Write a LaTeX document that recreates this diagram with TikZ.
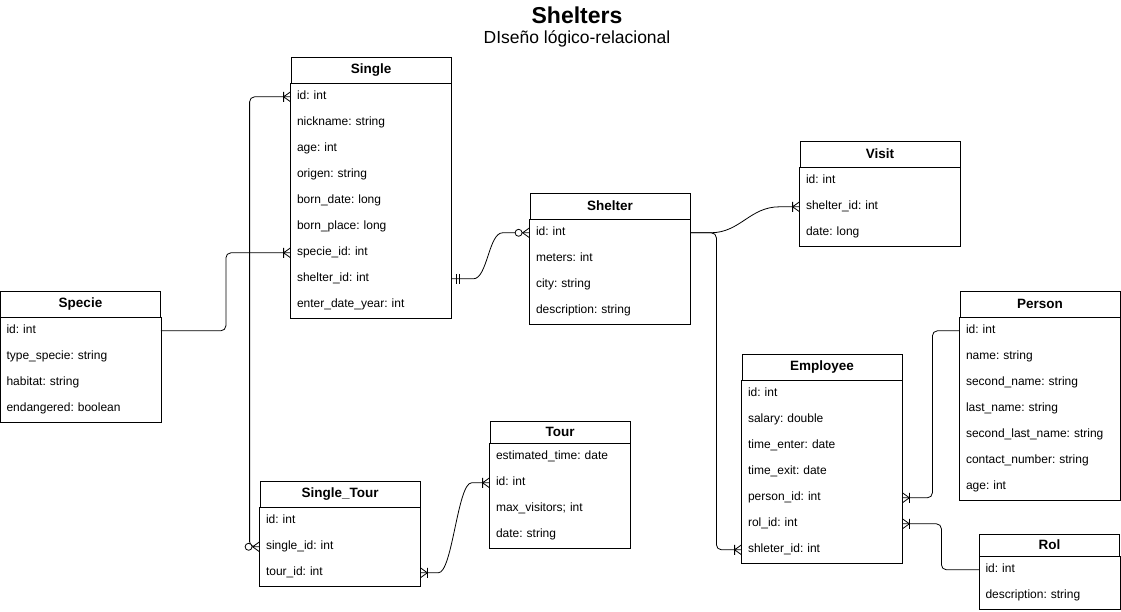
\documentclass[tikz,border=0pt]{standalone}
\usepackage{fontspec}
\setmainfont{Liberation Sans}
\frenchspacing
\usetikzlibrary{positioning,calc}
\begin{document}
\begin{tikzpicture}[x=1pt, y=1pt, line width=0.8pt, font=\fontsize{12}{14}\selectfont]
    \tikzstyle{tabhead} = [draw, rectangle, minimum width=160pt, minimum height=26pt, inner sep=0pt, font=\fontsize{13.5}{16}\selectfont\bfseries]
    \tikzstyle{field} = [rectangle, anchor=north west, minimum height=26pt, text width=148pt, inner xsep=6pt, inner ysep=0pt, align=left, text height=9pt, text depth=3pt]
    \tikzstyle{rel} = [rounded corners=5pt]
    \tikzset{
        onemany/.pic={\draw (-7,-5) -- (-7,5) (0,-5) -- (-7,0) -- (0,5);},
        zeromany/.pic={\draw (0,-5) -- (-7,0) -- (0,5); \draw[fill=white] (-11,0) circle (3.5);},
        oneone/.pic={\draw (-5,-5) -- (-5,5) (-8,-5) -- (-8,5);}
    }
    \useasboundingbox (0,0) rectangle (1121,-612);

    \node[font=\fontsize{23}{27}\selectfont\bfseries] (title) at (577,-15) {Shelters};
    \node[font=\fontsize{17.5}{21}\selectfont] (subtitle) at (577,-39) {DIseño lógico-relacional};

    % Single
    \node[tabhead] (single) at (371,-70) {Single};
    \foreach \f [count=\i] in {id: int, nickname: string, age: int, origen: string, born\_date: long, born\_place: long, specie\_id: int, shelter\_id: int, enter\_date\_year: int}
        \node[field] (single-\i) at ([yshift=-26*(\i-1)]single.south west) {\f};
    \draw (single.south west) rectangle (single-9.south east);

    % Specie
    \node[tabhead] (specie) at (80.5,-304) {Specie};
    \foreach \f [count=\i] in {id: int, type\_specie: string, habitat: string, endangered: boolean}
        \node[field] (specie-\i) at ([yshift=-26*(\i-1)]specie.south west) {\f};
    \draw (specie.south west) rectangle (specie-4.south east);

    % Shelter
    \node[tabhead] (shelter) at (610,-206) {Shelter};
    \foreach \f [count=\i] in {id: int, meters: int, city: string, description: string}
        \node[field] (shelter-\i) at ([yshift=-26*(\i-1)]shelter.south west) {\f};
    \draw (shelter.south west) rectangle (shelter-4.south east);

    % Visit
    \node[tabhead] (visit) at (880,-154) {Visit};
    \foreach \f [count=\i] in {id: int, shelter\_id: int, date: long}
        \node[field] (visit-\i) at ([yshift=-26*(\i-1)]visit.south west) {\f};
    \draw (visit.south west) rectangle (visit-3.south east);

    % Person
    \node[tabhead] (person) at (1040,-304) {Person};
    \foreach \f [count=\i] in {id: int, name: string, second\_name: string, last\_name: string, second\_last\_name: string, contact\_number: string, age: int}
        \node[field] (person-\i) at ([yshift=-26*(\i-1)]person.south west) {\f};
    \draw (person.south west) rectangle (person-7.south east);

    % Employee
    \node[tabhead] (emp) at (822,-367) {Employee};
    \foreach \f [count=\i] in {id: int, salary: double, time\_enter: date, time\_exit: date, person\_id: int, rol\_id: int, shleter\_id: int}
        \node[field] (emp-\i) at ([yshift=-26*(\i-1)]emp.south west) {\f};
    \draw (emp.south west) rectangle (emp-7.south east);

    % Rol
    \node[tabhead, minimum width=140pt, minimum height=22pt] (rol) at (1049.5,-545) {Rol};
    \foreach \f [count=\i] in {id: int, description: string}
        \node[field, text width=128pt] (rol-\i) at ([yshift=-26*(\i-1)]rol.south west) {\f};
    \draw (rol.south west) rectangle (rol-2.south east);

    % Tour
    \node[tabhead, minimum width=140pt, minimum height=22pt] (tour) at (560,-432) {Tour};
    \foreach \f [count=\i] in {estimated\_time: date, id: int, max\_visitors; int, date: string}
        \node[field, text width=128pt] (tour-\i) at ([yshift=-26*(\i-1)]tour.south west) {\f};
    \draw (tour.south west) rectangle (tour-4.south east);

    % Single_Tour
    \node[tabhead] (st) at (340,-494) {Single\_Tour};
    \foreach \f [count=\i] in {id: int, single\_id: int, tour\_id: int}
        \node[field] (st-\i) at ([yshift=-26*(\i-1)]st.south west) {\f};
    \draw (st.south west) rectangle (st-3.south east);

    % relations
    \draw[rel] (specie-1.east) -- ++(65,0) |- (single-7.west);
    \pic at (single-7.west) {onemany};

    \draw[rel] (st-2.west) -- ++(-10,0) |- (single-1.west);
    \pic at (st-2.west) {zeromany};
    \pic at (single-1.west) {onemany};

    \draw (single-8.east) -- ++(22,0) .. controls +(14,0) and +(-14,0) .. ([xshift=-27]shelter-1.west) -- (shelter-1.west);
    \pic[rotate=180] at (single-8.east) {oneone};
    \pic at (shelter-1.west) {zeromany};

    \draw (shelter-1.east) -- ++(20,0) .. controls +(30,0) and +(-30,0) .. ([xshift=-20]visit-2.west) -- (visit-2.west);
    \pic at (visit-2.west) {onemany};

    \draw[rel] (shelter-1.east) -- ++(26,0) |- (emp-7.west);
    \pic at (emp-7.west) {onemany};

    \draw[rel] (emp-5.east) -- ++(30,0) |- (person-1.west);
    \pic[rotate=180] at (emp-5.east) {onemany};

    \draw[rel] (emp-6.east) -- ++(39,0) |- (rol-1.west);
    \pic[rotate=180] at (emp-6.east) {onemany};

    \draw (st-3.east) -- ++(18,0) .. controls +(14,0) and +(-14,0) .. ([xshift=-18]tour-2.west) -- (tour-2.west);
    \pic[rotate=180] at (st-3.east) {onemany};
    \pic at (tour-2.west) {onemany};
\end{tikzpicture}
\end{document}
